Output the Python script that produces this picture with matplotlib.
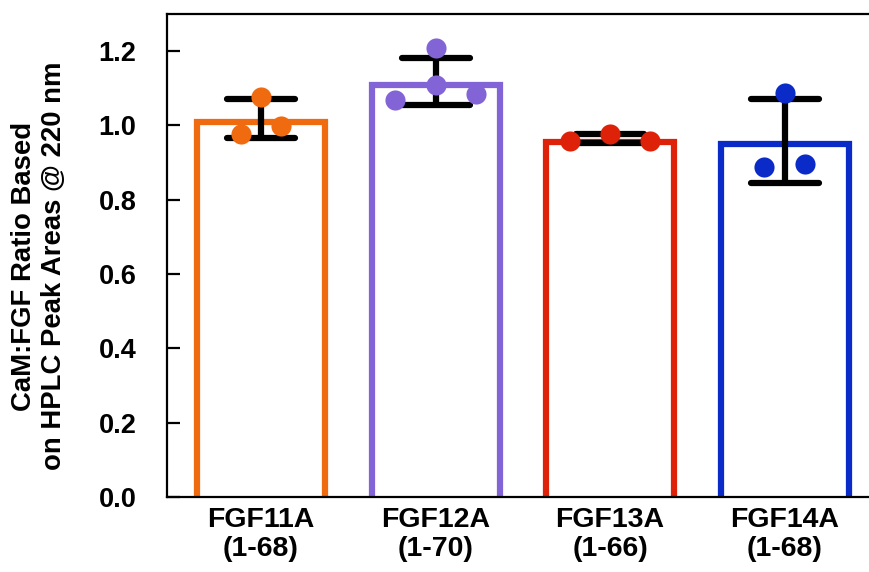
import numpy as np
import matplotlib
matplotlib.use('Agg')
from matplotlib import pyplot as plt

plt.rcParams['font.family'] = ['Liberation Sans', 'DejaVu Sans']
plt.rcParams['font.weight'] = 'bold'

# constructs and replicate ratios
labels = ['FGF11A\n(1-68)', 'FGF12A\n(1-70)', 'FGF13A\n(1-66)', 'FGF14A\n(1-68)']
colors = ['#F06A10', '#8364D7', '#DE220A', '#0B2BC9']
ratios = [
	[1.077, 0.978, 0.999],
	[1.209, 1.108, 1.068, 1.085],
	[0.958, 0.978, 0.958],
	[1.088, 0.889, 0.897],
]
# horizontal spread of the replicate dots inside each bar
spread = [
	[0.0, -0.115, 0.115],
	[0.0, 0.0, -0.232, 0.23],
	[-0.229, 0.0, 0.229],
	[0.0, -0.115, 0.115],
]

fig = plt.figure(figsize=(8.7, 5.72), dpi=100)
ax = fig.add_axes([167 / 870, 75 / 572, 713 / 870, 483 / 572])

bar_w = 0.734
bar_lw = 4.5
cap_half = 0.195
x = np.arange(len(labels))
# outline sits inside the bar, so pull the top down by half the line width
edge_off = 3 / 372.5

for i, vals in enumerate(ratios):
	vals = np.array(vals)
	m = vals.mean()
	sd = vals.std(ddof=1)
	ax.bar(x[i], m - edge_off + 0.03, bottom=-0.03, width=bar_w, fill=False,
		   edgecolor=colors[i], linewidth=bar_lw, joinstyle='miter', zorder=2)
	ax.vlines(x[i], m - sd, m + sd, color='black', linewidth=4.5, zorder=3)
	ax.hlines([m - sd, m + sd], x[i] - cap_half, x[i] + cap_half, color='black',
			  linewidth=4.5, capstyle='round', zorder=3)
	ax.plot(x[i] + np.array(spread[i]), vals, 'o', color=colors[i],
			markersize=14.5, markeredgewidth=0, zorder=4)

ax.set_xlim(-0.539, 3.547)
ax.set_ylim(0, 1.3)
ax.set_yticks(np.arange(0, 1.21, 0.2))
ax.set_yticklabels(['%.1f' % v for v in np.arange(0, 1.21, 0.2)])
ax.set_xticks(x)
ax.set_xticklabels(labels, linespacing=1.15)

ax.tick_params(axis='y', direction='in', length=9.4, width=1.6, pad=22, labelsize=19.5)
ax.tick_params(axis='x', length=0, pad=7, labelsize=20.5)

for s in ['left', 'top', 'bottom']:
	ax.spines[s].set_linewidth(1.6)
ax.spines['right'].set_visible(False)

fig.text(39.5 / 870, 1 - 266 / 572, 'CaM:FGF Ratio Based\non HPLC Peak Areas @ 220 nm',
		 rotation=90, ha='center', va='center', fontsize=19.8, fontweight='bold')

plt.savefig('out.png')
